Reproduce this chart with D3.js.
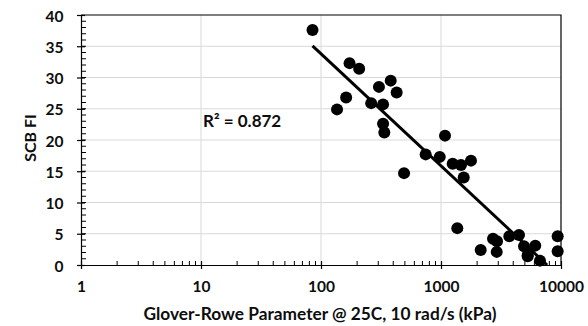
<!DOCTYPE html>
<html>
<head>
<meta charset="utf-8">
<script src="https://cdn.jsdelivr.net/npm/d3@7"></script>
<style>
  body { margin: 0; background: #fff; }
  text { font-family: Lato, "Open Sans", sans-serif; font-weight: bold; fill: #0d0d0d; }
</style>
</head>
<body>
<div id="chart"></div>
<script>
'use strict';

// Glover-Rowe parameter (kPa) vs SCB flexibility index
const grValues = [85, 136, 162, 173, 208, 262, 304, 329, 329, 337, 381, 427, 492,
  745, 976, 1080, 1251, 1367, 1468, 1546, 1778, 2142, 2713, 2913, 2929, 3710,
  4467, 4918, 5278, 5278, 6103, 6683, 9380, 9380];
const fiValues = [37.6, 24.9, 26.8, 32.3, 31.4, 25.9, 28.5, 25.7, 22.6, 21.2, 29.5, 27.6, 14.7,
  17.7, 17.3, 20.7, 16.2, 5.9, 16.0, 14.0, 16.7, 2.4, 4.2, 2.1, 3.8, 4.6,
  4.8, 3.0, 1.6, 1.4, 3.1, 0.7, 4.6, 2.2];
const xTicks = [1, 10, 100, 1000, 10000];
const yTicks = [0, 5, 10, 15, 20, 25, 30, 35, 40];
const r2Label = "R² = 0.872";
const xTitle = "Glover-Rowe Parameter @ 25C, 10 rad/s (kPa)";
const yTitle = "SCB FI";

const width = 588, height = 326;
const margin = {top: 15, right: 27, bottom: 61, left: 81};
const w = width - margin.left - margin.right;
const h = height - margin.top - margin.bottom;

const svg = d3.select('#chart').append('svg')
    .attr('width', width)
    .attr('height', height);

const plot = svg.append('g')
    .attr('transform', `translate(${margin.left},${margin.top})`);

const x = d3.scaleLog().domain([1, 10000]).range([0, w]);
const y = d3.scaleLinear().domain([0, 40]).range([h, 0]);

// grid
plot.append('g')
    .attr('stroke', '#d9d9d9')
    .attr('stroke-width', 1)
  .selectAll('line.h')
    .data(yTicks.slice(1, -1))
    .join('line')
    .attr('x1', 0).attr('x2', w)
    .attr('y1', d => y(d)).attr('y2', d => y(d));
plot.append('g')
    .attr('stroke', '#d9d9d9')
    .attr('stroke-width', 1)
  .selectAll('line.v')
    .data(xTicks.slice(1, -1))
    .join('line')
    .attr('y1', 0).attr('y2', h)
    .attr('x1', d => x(d)).attr('x2', d => x(d));

// border on top and right
plot.append('path')
    .attr('fill', 'none')
    .attr('stroke', '#000')
    .attr('stroke-width', 1.2)
    .attr('d', `M0,0H${w}V${h}`);

// minor ticks (inside)
const xMinor = [];
for (let dec = 1; dec < 10000; dec *= 10)
    for (let k = 2; k <= 9; k++) xMinor.push(dec * k);
plot.append('g')
    .attr('stroke', '#000')
    .selectAll('line')
    .data(xMinor)
    .join('line')
    .attr('x1', d => x(d)).attr('x2', d => x(d))
    .attr('y1', h).attr('y2', h - 4);

plot.append('g')
    .attr('stroke', '#000')
    .selectAll('line')
    .data(d3.range(1, 40))
    .join('line')
    .attr('x1', 0).attr('x2', 5)
    .attr('y1', d => y(d)).attr('y2', d => y(d));

// axes
const xAxis = plot.append('g')
    .attr('transform', `translate(0,${h})`)
    .call(d3.axisBottom(x).tickValues(xTicks).tickFormat(d3.format('d')).tickSize(4).tickSizeOuter(0));
const yAxis = plot.append('g')
    .call(d3.axisLeft(y).tickValues(yTicks).tickSize(4).tickSizeOuter(0));

[xAxis, yAxis].forEach(a => {
    a.select('.domain').attr('stroke', '#000').attr('stroke-width', 1.2);
    a.selectAll('.tick line').attr('stroke', '#000').attr('stroke-width', 1.2);
    a.selectAll('.tick text')
        .attr('font-size', 15.5)
        .attr('font-family', 'Lato, sans-serif')
        .attr('font-weight', 'bold')
        .attr('fill', '#0d0d0d');
});
// major ticks crossing the axis line
xAxis.selectAll('.tick').append('line')
    .attr('stroke', '#000').attr('stroke-width', 1.2)
    .attr('y1', 0).attr('y2', -4);
yAxis.selectAll('.tick').append('line')
    .attr('stroke', '#000').attr('stroke-width', 1.2)
    .attr('x1', 0).attr('x2', 4);
xAxis.selectAll('.tick text').attr('dy', '1.3em');
yAxis.selectAll('.tick text').attr('x', -17.5).attr('dy', '0.4em');

// log trendline (least squares on log10 x)
const lx = grValues.map(v => Math.log10(v));
const mx = d3.mean(lx), my = d3.mean(fiValues);
let sxy = 0, sxx = 0;
lx.forEach((v, i) => { sxy += (v - mx) * (fiValues[i] - my); sxx += (v - mx) * (v - mx); });
const slope = sxy / sxx, icpt = my - slope * mx;
const xMin = d3.min(grValues);
const xZero = Math.pow(10, -icpt / slope);
const xEnd = Math.min(d3.max(grValues), xZero);

plot.append('clipPath').attr('id', 'clip')
  .append('rect').attr('width', w).attr('height', h);

plot.append('line')
    .attr('clip-path', 'url(#clip)')
    .attr('stroke', '#000')
    .attr('stroke-width', 3)
    .attr('x1', x(xMin)).attr('y1', y(icpt + slope * Math.log10(xMin)))
    .attr('x2', x(xEnd)).attr('y2', y(icpt + slope * Math.log10(xEnd)));

// points
plot.append('g')
    .selectAll('circle')
    .data(grValues.map((v, i) => [v, fiValues[i]]))
    .join('circle')
    .attr('cx', d => x(d[0]))
    .attr('cy', d => y(d[1]))
    .attr('r', 6)
    .attr('fill', '#000');

// R² label
plot.append('text')
    .attr('x', 203 - margin.left)
    .attr('y', 127 - margin.top)
    .attr('font-size', 17)
    .text(r2Label);

// titles
svg.append('text')
    .attr('x', 320)
    .attr('y', 320)
    .attr('text-anchor', 'middle')
    .attr('font-size', 17.3)
    .text(xTitle);
svg.append('text')
    .attr('transform', `translate(36,138) rotate(-90)`)
    .attr('text-anchor', 'middle')
    .attr('font-size', 16)
    .text(yTitle);
</script>
</body>
</html>
